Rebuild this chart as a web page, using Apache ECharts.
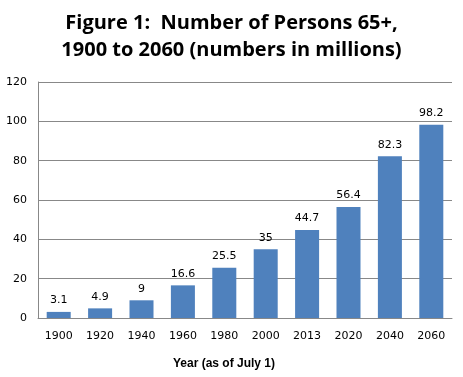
<!DOCTYPE html>
<html><head><meta charset="utf-8">
<script src="https://cdn.jsdelivr.net/npm/echarts@6/dist/echarts.min.js"></script>
<style>html,body{margin:0;padding:0;background:#fff}#c{width:463px;height:377px}</style>
</head><body><div id="c"></div>
<script>
const categories = ['1900','1920','1940','1960','1980','2000','2013','2020','2040','2060'];
const persons65 = [3.1, 4.9, 9, 16.6, 25.5, 35, 44.7, 56.4, 82.3, 98.2];
const titleText = 'Figure 1:  Number of Persons 65+,\n1900 to 2060 (numbers in millions)';
const xName = 'Year (as of July 1)';
const chart = echarts.init(document.getElementById('c'));
chart.setOption({
  animation: false,
  backgroundColor: '#fff',
  title: {
    text: titleText, left: 'center', top: 5,
    textStyle: { fontFamily: 'Open Sans', fontWeight: 'bold', fontSize: 20, color: '#000', lineHeight: 27 }
  },
  grid: { left: 38, right: 11, top: 82, bottom: 59, containLabel: false },
  xAxis: {
    type: 'category', data: categories,
    name: xName, nameLocation: 'middle', nameGap: 40,
    nameTextStyle: { fontFamily: 'Liberation Sans', fontWeight: 'bold', fontSize: 12, color: '#000', padding: [0, 42, 0, 0] },
    axisLine: { lineStyle: { color: '#888' } },
    axisTick: { show: false },
    axisLabel: { color: '#000', fontFamily: 'DejaVu Sans', fontSize: 11, margin: 13 }
  },
  yAxis: {
    type: 'value', min: 0, max: 120, interval: 20,
    axisLine: { show: true, lineStyle: { color: '#888' } },
    axisTick: { show: false },
    splitLine: { lineStyle: { color: '#888' } },
    axisLabel: { color: '#000', fontFamily: 'DejaVu Sans', fontSize: 11, margin: 11 }
  },
  series: [{
    type: 'bar', data: persons65, barWidth: '58%',
    itemStyle: { color: '#4f81bd' },
    label: { show: true, position: 'top', distance: 6, color: '#000', fontFamily: 'DejaVu Sans', fontSize: 11 }
  }]
});
</script></body></html>
